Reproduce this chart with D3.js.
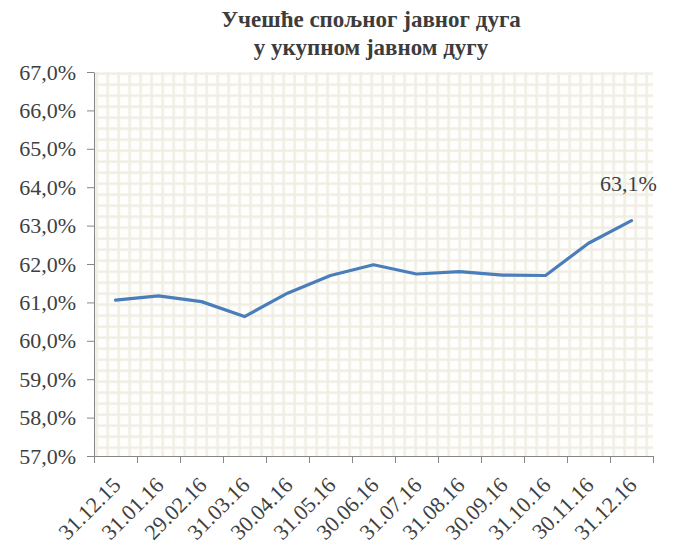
<!DOCTYPE html>
<html>
<head>
<meta charset="utf-8">
<script src="https://cdn.jsdelivr.net/npm/d3@7"></script>
<style>
    body { margin: 0; background: #fff; }
    #chart { width: 674px; height: 546px; }
</style>
</head>
<body>
<div id="chart"></div>
<script>
// data
const dates = ["31.12.15", "31.01.16", "29.02.16", "31.03.16", "30.04.16", "31.05.16", "30.06.16",
    "31.07.16", "31.08.16", "30.09.16", "31.10.16", "30.11.16", "31.12.16"];
const shares = [61.06, 61.17, 61.02, 60.63, 61.24, 61.70, 61.98, 61.74, 61.80, 61.71, 61.70, 62.54, 63.13];
const yTicks = [57, 58, 59, 60, 61, 62, 63, 64, 65, 66, 67];
const titleLines = ["Учешће спољног јавног дуга", "у укупном јавном дугу"];
const lastLabel = "63,1%";

const serif = "'Liberation Serif', Tinos, 'Times New Roman', Times, 'DejaVu Serif', 'Noto Serif', serif";

let margin = {top: 72, right: 21, bottom: 90, left: 94};
let width = 674 - margin.left - margin.right;
let height = 546 - margin.top - margin.bottom;

let svg = d3.select("#chart").append("svg")
    .attr("width", 674)
    .attr("height", 546)
    .attr("font-family", serif);

// small-grid pattern fill of the plot area
let defs = svg.append("defs");
let pat = defs.append("pattern")
    .attr("id", "grid")
    .attr("patternUnits", "userSpaceOnUse")
    .attr("x", margin.left + 2.7 - 5.5)
    .attr("y", margin.top + 1.7 - 5.5)
    .attr("width", 11)
    .attr("height", 11);
pat.append("rect").attr("width", 11).attr("height", 11).attr("fill", "#fefefd");
pat.append("rect").attr("x", 4.3).attr("y", 0).attr("width", 2.4).attr("height", 11).attr("fill", "#f0ede3");
pat.append("rect").attr("x", 0).attr("y", 4.3).attr("width", 11).attr("height", 2.4).attr("fill", "#f0ede3");

// title
svg.append("text")
    .attr("text-anchor", "middle")
    .attr("font-weight", "bold")
    .attr("font-size", 23)
    .attr("font-family", serif)
    .attr("fill", "#3c3c3c")
    .selectAll("tspan")
    .data(titleLines)
    .enter()
    .append("tspan")
    .attr("x", 371)
    .attr("y", (d, i) => 27 + i * 28)
    .text(d => d);

let g = svg.append("g")
    .attr("transform", `translate(${margin.left}, ${margin.top})`);

g.append("rect")
    .attr("width", width).attr("height", height)
    .attr("transform", `translate(${-margin.left}, ${-margin.top})`)
    .attr("x", margin.left).attr("y", margin.top)
    .attr("fill", "url(#grid)");

// scales
let x = d3.scaleBand()
    .domain(dates)
    .range([0, width]);

let xTickScale = d3.scaleLinear()
    .domain([0, dates.length])
    .range([0, width]);

let y = d3.scaleLinear()
    .domain([57, 67])
    .range([height, 0]);

// y axis
let yAxis = d3.axisLeft(y)
    .tickValues(yTicks)
    .tickSize(7)
    .tickSizeOuter(0)
    .tickPadding(11)
    .tickFormat(d => d.toFixed(1).replace(".", ",") + "%");

let yG = g.append("g").attr("class", "y-axis").call(yAxis)
    .attr("font-family", serif)
    .attr("font-size", 22);
yG.select(".domain").attr("stroke", "#868686");
yG.selectAll(".tick line").attr("stroke", "#868686");
yG.selectAll(".tick text").attr("fill", "#404040");

// x axis: tick marks between categories
let xAxis = d3.axisBottom(xTickScale)
    .tickValues(d3.range(0, dates.length + 1))
    .tickSize(7)
    .tickSizeOuter(0)
    .tickFormat("");

let xG = g.append("g")
    .attr("class", "x-axis")
    .attr("transform", `translate(0, ${height})`)
    .call(xAxis);
xG.select(".domain").attr("stroke", "#868686");
xG.selectAll(".tick line").attr("stroke", "#868686");

// rotated category labels
g.append("g")
    .selectAll("text")
    .data(dates)
    .enter()
    .append("text")
    .attr("text-anchor", "end")
    .attr("font-size", 22)
    .attr("font-family", serif)
    .attr("fill", "#404040")
    .attr("transform", d => `translate(${x(d) + x.bandwidth() / 2 + 1}, ${height + 25}) rotate(-45)`)
    .attr("dy", "0.35em")
    .text(d => d);

// line
let line = d3.line()
    .x((d, i) => x(dates[i]) + x.bandwidth() / 2)
    .y(d => y(d));

g.append("path")
    .datum(shares)
    .attr("fill", "none")
    .attr("stroke", "#4a7ebb")
    .attr("stroke-width", 3.2)
    .attr("stroke-linejoin", "round")
    .attr("stroke-linecap", "round")
    .attr("d", line);

// data label on last point
let last = shares.length - 1;
g.append("text")
    .attr("text-anchor", "middle")
    .attr("font-size", 22)
    .attr("font-family", serif)
    .attr("fill", "#404040")
    .attr("x", x(dates[last]) + x.bandwidth() / 2 - 3)
    .attr("y", y(shares[last]) - 30)
    .text(lastLabel);
</script>
</body>
</html>
